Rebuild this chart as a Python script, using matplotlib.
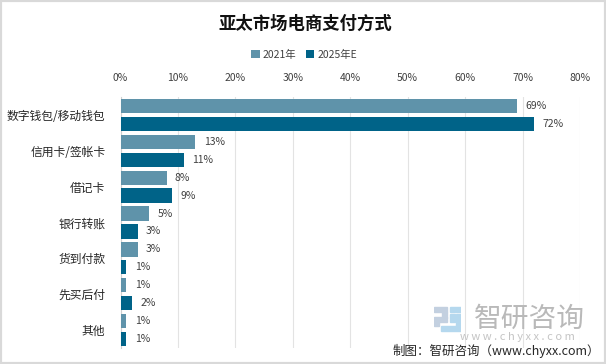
import numpy as np
import matplotlib
matplotlib.use('Agg')
import matplotlib.pyplot as plt
from matplotlib.patches import Rectangle

plt.rcParams['font.family'] = ['Noto Sans CJK SC', 'DejaVu Sans']

categories = ['数字钱包/移动钱包', '信用卡/签帐卡', '借记卡', '银行转账', '货到付款', '先买后付', '其他']
values_2021 = [69, 13, 8, 5, 3, 1, 1]
values_2025 = [72, 11, 9, 3, 1, 2, 1]
xticks = [0, 10, 20, 30, 40, 50, 60, 70, 80]

W, H = 606, 364
fig = plt.figure(figsize=(W / 100, H / 100), dpi=100, facecolor='white')

# light frame round the whole picture
fig.add_artist(Rectangle((0, 0), 1, 1, transform=fig.transFigure, fill=False,
                         edgecolor='#d9d9d9', linewidth=3))

ax = fig.add_axes([120.6 / W, 1 - 348 / H, (580 - 120.6) / W, (348 - 97) / H])

y = np.arange(len(categories))
h = 0.38
off = 0.25
bars1 = ax.barh(y - off, values_2021, h * 1.05, color='#5f93aa', label='2021年', zorder=3)
bars2 = ax.barh(y + off, values_2025, h * 1.05, color='#006388', label='2025年E', zorder=3)

for bars in (bars1, bars2):
    ax.bar_label(bars, fmt='%d%%', padding=6, fontsize=7.5, color='#404040')

ax.set_xlim(0, 80)
ax.set_ylim(len(categories) - 0.5, -0.5)
ax.set_xticks(xticks)
ax.set_xticklabels([f'{t}%' for t in xticks], fontsize=7.5, color='#404040')
ax.set_yticks(y)
ax.set_yticklabels(categories, fontsize=8.5, color='#262626')
ax.xaxis.tick_top()
ax.tick_params(axis='both', length=0)
ax.tick_params(axis='x', pad=10)
ax.tick_params(axis='y', pad=11)
ax.grid(axis='x', color='#e3e3e3', linewidth=0.8, zorder=0)
for side in ['top', 'right', 'bottom']:
    ax.spines[side].set_visible(False)
ax.spines['left'].set_color('#d0d0d0')
ax.spines['left'].set_linewidth(0.8)

fig.text(305 / W, 1 - 24 / H, '亚太市场电商支付方式', ha='center', va='center',
         fontsize=12.5, fontweight='bold', color='#111111')

fig.legend(handles=[bars1, bars2], loc='center', bbox_to_anchor=(304 / W, 1 - 55 / H),
           ncol=2, frameon=False, fontsize=7.5, handlelength=0.8, handleheight=0.8,
           handletextpad=0.3, columnspacing=0.9, labelcolor='#404040')

# watermark
logo = fig.add_axes([434 / W, 1 - 333 / H, 27 / W, 28 / H], zorder=5)
logo.set_xlim(0, 27)
logo.set_ylim(28, 0)
logo.axis('off')
logo.add_patch(Rectangle((0, 2), 13, 5, color='#c3d0e0'))
logo.add_patch(Rectangle((8, 7), 5, 6, color='#c3d0e0'))
logo.add_patch(Rectangle((0, 12), 13, 5, color='#c3d0e0'))
logo.add_patch(Rectangle((0, 17), 5, 4, color='#c3d0e0'))
logo.add_patch(Rectangle((16, 2), 11, 5, color='#b5d8ee'))
logo.add_patch(Rectangle((16, 9), 5, 8, color='#b5d8ee'))
logo.add_patch(Rectangle((22, 9), 5, 15, color='#b5d8ee'))
logo.add_patch(Rectangle((7, 21), 20, 5, color='#b5d8ee'))

fig.text(529 / W, 1 - 319 / H, '智研咨询', ha='center', va='center', fontsize=20,
         color='#b9b9b9', zorder=6)
fig.text(517 / W, 1 - 337 / H, 'w w w . c h y x x . c o m', ha='center', va='center',
         fontsize=8, color='#c4c4c4', zorder=6)
fig.text(600 / W, 1 - 351 / H, '制图：智研咨询（www.chyxx.com）', ha='right', va='center',
         fontsize=9, color='#262626', zorder=7)

fig.savefig('out.png', dpi=100)
